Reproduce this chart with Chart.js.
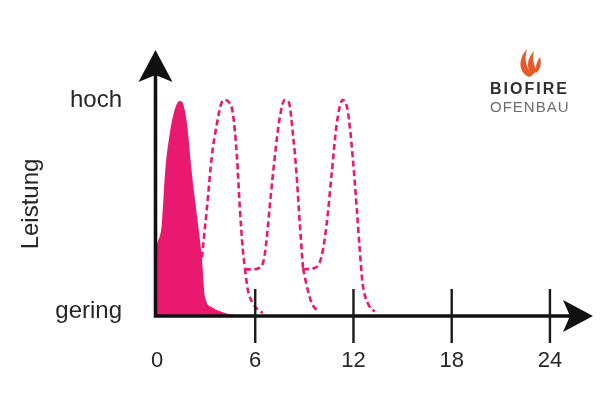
<!DOCTYPE html>
<html>
<head>
<meta charset="utf-8">
<script src="https://cdn.jsdelivr.net/npm/chart.js@4"></script>
<style>
  html, body { margin: 0; padding: 0; background: #ffffff; }
  #wrap { width: 606px; height: 415px; }
</style>
</head>
<body>
<div id="wrap"><canvas id="c" width="606" height="415"></canvas></div>
<script>
// ---- Data ----
const xTickValues = [0, 6, 12, 18, 24];
const xTickLabels = ['0', '6', '12', '18', '24'];
const yTickValues = [0.02, 1];
const yTickLabels = ['gering', 'hoch'];
const yTitle = 'Leistung';

// filled (actual) output curve
const fillX = [0, 0.30, 0.49, 0.79, 1.10, 1.40, 1.60, 1.83, 2.13, 2.50, 2.74, 2.93, 3.35, 4.15, 4.76, 5.06];
const fillY = [0.33, 0.43, 0.66, 0.85, 0.96, 0.995, 0.98, 0.89, 0.66, 0.43, 0.27, 0.09, 0.04, 0.014, 0.005, 0];

// dashed re-firing peaks
const peak1X = [2.74, 3.05, 3.35, 3.66, 3.96, 4.15, 4.39, 4.63, 4.88, 5.06, 5.24, 5.37];
const peak1Y = [0.27, 0.50, 0.74, 0.89, 0.99, 1.0, 0.99, 0.94, 0.74, 0.50, 0.31, 0.22];
const tail1X = [5.37, 5.55, 5.85, 6.16, 6.46];
const tail1Y = [0.22, 0.12, 0.06, 0.03, 0.014];
const peak2X = [5.37, 5.88, 6.16, 6.49, 6.69, 6.89, 7.20, 7.50, 7.80, 8.05, 8.32, 8.52, 8.72, 8.92];
const peak2Y = [0.216, 0.216, 0.22, 0.25, 0.35, 0.51, 0.74, 0.92, 1.0, 0.99, 0.83, 0.66, 0.43, 0.22];
const tail2X = [8.92, 9.21, 9.45, 9.82];
const tail2Y = [0.22, 0.12, 0.06, 0.02];
const peak3X = [8.92, 9.53, 10.05, 10.37, 10.67, 10.98, 11.34, 11.65, 11.95, 12.20, 12.38, 12.56, 12.87, 13.29];
const peak3Y = [0.216, 0.22, 0.275, 0.43, 0.66, 0.89, 1.0, 0.95, 0.74, 0.50, 0.31, 0.15, 0.06, 0.02];

// ---- helpers ----
const pts = (xs, ys) => xs.map((x, i) => ({ x: x, y: ys[i] }));
const PINK = '#e8196f';
const INK = '#111111';
const TXT = '#262626';
const FONT = "'Liberation Sans', Arial, sans-serif";

const dashed = (xs, ys) => ({
  data: pts(xs, ys),
  borderColor: PINK,
  borderWidth: 2.6,
  borderDash: [6, 3.5],
  pointRadius: 0,
  fill: false,
  cubicInterpolationMode: 'monotone'
});

const decor = {
  id: 'decor',
  afterDatasetsDraw(chart) {
    const ctx = chart.ctx;
    const xs = chart.scales.x, ys = chart.scales.y;
    const x0 = xs.getPixelForValue(0) - 1.5;
    const y0 = ys.getPixelForValue(0);
    const top = chart.chartArea.top;
    const right = chart.chartArea.right;
    ctx.save();
    // axis lines
    ctx.strokeStyle = INK;
    ctx.lineWidth = 3.6;
    ctx.beginPath();
    ctx.moveTo(x0, y0 + 1.8);
    ctx.lineTo(x0, top + 20);
    ctx.moveTo(x0 - 1.8, y0);
    ctx.lineTo(right - 20, y0);
    ctx.stroke();
    // tick marks
    ctx.lineWidth = 2.4;
    ctx.strokeStyle = '#1a1a1a';
    ctx.beginPath();
    xTickValues.forEach(v => {
      if (v === 0) return;
      const px = xs.getPixelForValue(v);
      ctx.moveTo(px, y0 - 27);
      ctx.lineTo(px, y0 + 27);
    });
    ctx.stroke();
    // arrow heads
    ctx.fillStyle = INK;
    ctx.beginPath();
    ctx.moveTo(x0, top);
    ctx.lineTo(x0 + 17, top + 32);
    ctx.lineTo(x0, top + 25);
    ctx.lineTo(x0 - 17, top + 32);
    ctx.closePath();
    ctx.fill();
    ctx.beginPath();
    ctx.moveTo(right, y0);
    ctx.lineTo(right - 30, y0 - 16);
    ctx.lineTo(right - 23, y0);
    ctx.lineTo(right - 30, y0 + 16);
    ctx.closePath();
    ctx.fill();
    // y title
    ctx.fillStyle = TXT;
    ctx.font = '24px ' + FONT;
    ctx.textAlign = 'center';
    ctx.textBaseline = 'middle';
    ctx.translate(31, 204);
    ctx.rotate(-Math.PI / 2);
    ctx.fillText(yTitle, 0, 0);
    ctx.restore();

    // logo
    ctx.save();
    ctx.fillStyle = '#e85a28';
    ctx.beginPath();
    ctx.moveTo(529, 77);
    ctx.bezierCurveTo(518, 72, 518, 59, 527, 49);
    ctx.bezierCurveTo(524, 60, 526, 68, 533, 75);
    ctx.closePath();
    ctx.fill();
    ctx.beginPath();
    ctx.moveTo(532, 75);
    ctx.bezierCurveTo(525, 67, 528, 57, 534, 51);
    ctx.bezierCurveTo(532, 60, 534, 66, 537, 71);
    ctx.closePath();
    ctx.fill();
    ctx.beginPath();
    ctx.moveTo(536, 73);
    ctx.bezierCurveTo(535, 66, 537, 61, 540, 57);
    ctx.bezierCurveTo(542, 64, 540, 70, 536, 73);
    ctx.closePath();
    ctx.fill();
    ctx.textAlign = 'left';
    ctx.textBaseline = 'alphabetic';
    ctx.fillStyle = '#2e2e2e';
    ctx.font = 'bold 16px ' + FONT;
    ctx.letterSpacing = '2px';
    ctx.fillText('BIOFIRE', 490, 94);
    ctx.fillStyle = '#6e6e6e';
    ctx.font = '15px ' + FONT;
    ctx.letterSpacing = '1px';
    ctx.fillText('OFENBAU', 490, 112);
    ctx.restore();
  }
};

new Chart(document.getElementById('c'), {
  type: 'line',
  data: {
    datasets: [
      {
        data: pts(fillX, fillY),
        borderColor: PINK,
        borderWidth: 0,
        backgroundColor: PINK,
        pointRadius: 0,
        fill: 'origin',
        cubicInterpolationMode: 'monotone'
      },
      dashed(peak1X, peak1Y),
      dashed(tail1X, tail1Y),
      dashed(peak2X, peak2Y),
      dashed(tail2X, tail2Y),
      dashed(peak3X, peak3Y)
    ]
  },
  options: {
    responsive: false,
    devicePixelRatio: 1,
    animation: false,
    layout: { padding: { top: 50, right: 13, bottom: 0, left: 0 } },
    plugins: { legend: { display: false }, tooltip: { enabled: false } },
    scales: {
      x: {
        type: 'linear',
        min: 0,
        max: 26.63,
        grid: { display: false, drawTicks: false },
        border: { display: false },
        afterFit: s => { s.height = 99; },
        afterBuildTicks: s => { s.ticks = xTickValues.map(v => ({ value: v })); },
        ticks: {
          padding: 32,
          color: TXT,
          font: { family: FONT, size: 22 },
          maxRotation: 0,
          callback: (v) => xTickLabels[xTickValues.indexOf(v)]
        }
      },
      y: {
        type: 'linear',
        min: 0,
        max: 1.2315,
        grid: { display: false, drawTicks: false },
        border: { display: false },
        afterFit: s => { s.width = 157; },
        afterBuildTicks: s => { s.ticks = yTickValues.map(v => ({ value: v })); },
        ticks: {
          padding: 35,
          color: TXT,
          font: { family: FONT, size: 24 },
          callback: (v) => yTickLabels[yTickValues.indexOf(v)]
        }
      }
    }
  },
  plugins: [decor]
});
</script>
</body>
</html>
